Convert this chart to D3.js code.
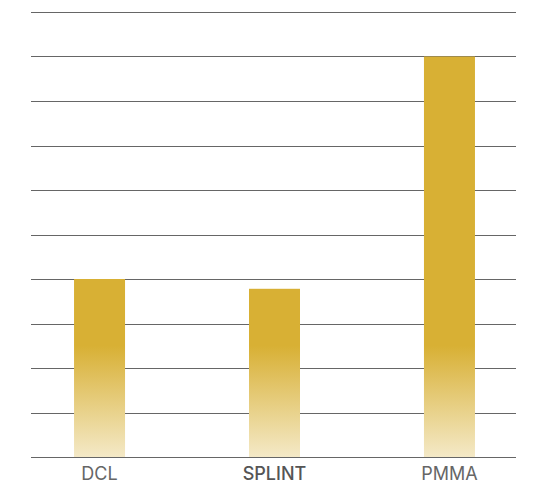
<!DOCTYPE html>
<html>
<head>
<meta charset="utf-8">
<script src="https://cdn.jsdelivr.net/npm/d3@7"></script>
<style>
  body { margin: 0; background: #fff; }
  svg { display: block; }
</style>
</head>
<body>
<svg id="chart" width="538" height="486"></svg>
<script>
const categories = ['DCL', 'SPLINT', 'PMMA'];
const values = [4, 3.78, 9];
const gridTicks = [0, 1, 2, 3, 4, 5, 6, 7, 8, 9, 10];

const svg = d3.select('#chart');
const margin = { left: 31, right: 516, top: 12, bottom: 457 };

const x = d3.scalePoint().domain(categories).range([margin.left + 1, margin.right + 1]).padding(0.386);
const y = d3.scaleLinear().domain([0, 10]).range([margin.bottom, margin.top]);
const barWidth = 51;

// gradient shared by all bars, fades toward the baseline
const grad = svg.append('defs').append('linearGradient')
    .attr('id', 'barFade')
    .attr('gradientUnits', 'userSpaceOnUse')
    .attr('x1', 0).attr('x2', 0)
    .attr('y1', y(2.5)).attr('y2', y(0));
grad.append('stop').attr('offset', '0%').attr('stop-color', '#d8b034');
grad.append('stop').attr('offset', '100%').attr('stop-color', '#f4e9c7');

svg.append('g')
    .selectAll('line')
    .data(gridTicks)
    .enter()
    .append('line')
    .attr('x1', margin.left).attr('x2', margin.right)
    .attr('y1', d => Math.round(y(d)) + 0.5)
    .attr('y2', d => Math.round(y(d)) + 0.5)
    .attr('stroke', '#666')
    .attr('stroke-width', 1);

svg.append('g')
    .selectAll('rect')
    .data(categories)
    .enter()
    .append('rect')
    .attr('x', d => x(d) - barWidth / 2)
    .attr('width', barWidth)
    .attr('y', (d, i) => y(values[i]))
    .attr('height', (d, i) => y(0) - y(values[i]))
    .attr('fill', 'url(#barFade)');

svg.append('g')
    .selectAll('text')
    .data(categories)
    .enter()
    .append('text')
    .attr('x', d => x(d))
    .attr('y', 480)
    .attr('text-anchor', 'middle')
    .attr('fill', d => d === 'SPLINT' ? '#555' : '#666')
    .style('font-family', 'Inter, "Noto Sans", sans-serif')
    .style('font-size', '18px')
    .style('font-weight', d => d === 'SPLINT' ? 500 : 400)
    .text(d => d);
</script>
</body>
</html>
